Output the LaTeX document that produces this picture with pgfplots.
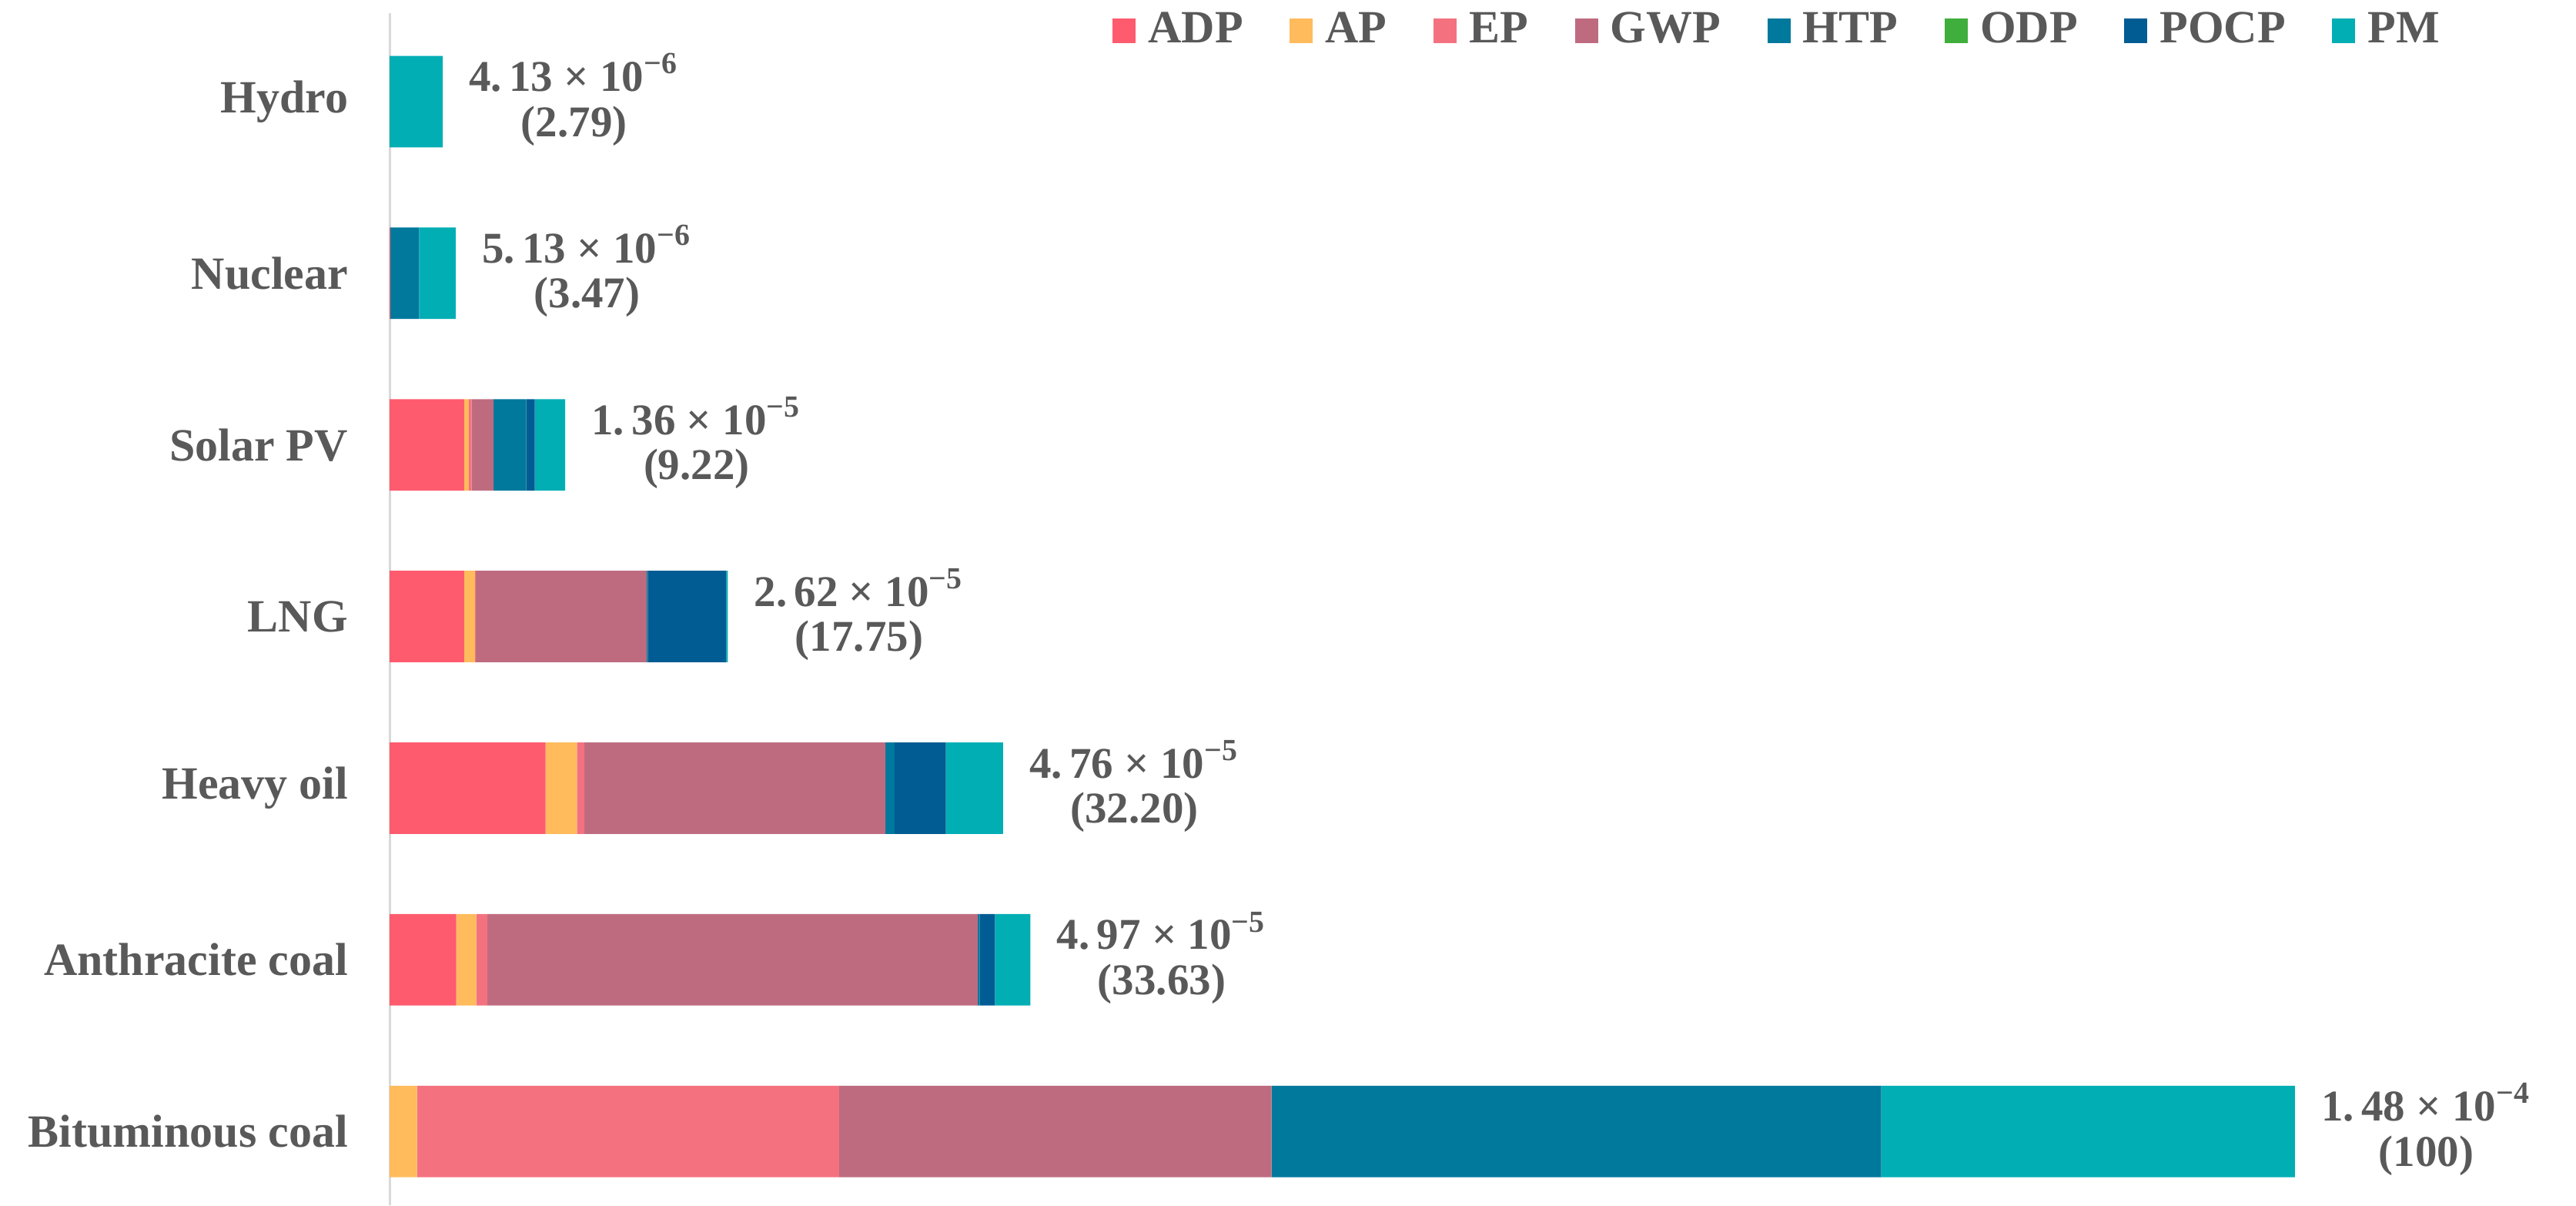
\documentclass[border=0pt]{standalone}
\usepackage{pgfplots}
\pgfplotsset{compat=1.18}
\usepackage{pgfplotstable}
\usepackage{fontspec}
\setmainfont{Liberation Serif}

\definecolor{txt}{HTML}{595959}
\definecolor{cADP}{HTML}{FF5B6E}
\definecolor{cAP}{HTML}{FFBB5C}
\definecolor{cEP}{HTML}{F4727F}
\definecolor{cGWP}{HTML}{BE6B80}
\definecolor{cHTP}{HTML}{00799C}
\definecolor{cODP}{HTML}{40AE3C}
\definecolor{cPOCP}{HTML}{005C93}
\definecolor{cPM}{HTML}{00AEB4}

% label: mantissa (two parts), exponent, relative value
\protected\def\lab#1#2#3#4{{\renewcommand\arraystretch{0.9}%
  \begin{tabular}{@{}c@{}}#1.\,#2 × 10\textsuperscript{−#3}\\(#4)\end{tabular}}}

% idx: 0 Bituminous ... 6 Hydro (relative to bituminous coal = 100)
\pgfplotstableread{
idx  ADP   AP    EP     GWP    HTP    ODP  POCP  PM
0    0     1.44  22.15  22.70  32.00  0    0     21.71
1    3.50  1.05  0.59   25.73  0.10   0    0.80  1.86
2    8.19  1.64  0.40   15.80  0.47   0    2.70  3.00
3    3.91  0.57  0.05   8.97   0.05   0    4.12  0.08
4    3.91  0.25  0.15   1.15   1.72   0    0.44  1.60
5    0.05  0     0      0      1.50   0    0     1.92
6    0     0     0      0      0      0    0     2.79
}\impacts

\begin{document}
\begin{tikzpicture}
\begin{axis}[
    name=ax,
    scale only axis,
    width=473.3pt, height=258pt,
    xbar stacked,
    bar width=19.8pt,
    xmin=0, xmax=114.75,
    ymin=-0.43, ymax=6.516,
    axis x line=none,
    axis y line*=left,
    y axis line style={draw=black!15, line width=0.5pt},
    ytick={0,...,6},
    yticklabels={Bituminous coal, Anthracite coal, Heavy oil, LNG, Solar PV, Nuclear, Hydro},
    ytick style={draw=none},
    yticklabel style={anchor=east, inner sep=0pt, xshift=-8.8pt,
        font=\fontsize{10}{12}\selectfont\bfseries, text=txt},
    clip=false,
    seg/.style={fill=#1, draw=none,
        legend image code/.code={\fill[##1] (0pt,-2.65pt) rectangle (5pt,2.65pt);}},
    legend columns=-1,
    legend style={draw=none, fill=none, inner sep=0pt,
        at={(0.9438,0.985)}, anchor=east,
        nodes={inner xsep=2.7pt, inner ysep=0pt, text=txt,
            font=\fontsize{10}{12}\selectfont\bfseries},
        /tikz/every even column/.append style={column sep=7.4pt}},
]
\addplot[seg=cADP]  table[x=ADP,  y=idx] {\impacts};
\addplot[seg=cAP]   table[x=AP,   y=idx] {\impacts};
\addplot[seg=cEP]   table[x=EP,   y=idx] {\impacts};
\addplot[seg=cGWP]  table[x=GWP,  y=idx] {\impacts};
\addplot[seg=cHTP]  table[x=HTP,  y=idx] {\impacts};
\addplot[seg=cODP]  table[x=ODP,  y=idx] {\impacts};
\addplot[seg=cPOCP] table[x=POCP, y=idx] {\impacts};
\addplot[seg=cPM]   table[x=PM,   y=idx] {\impacts};
% hairline segment at the end of each bar carries the total label
\addplot[fill=white, draw=none, forget plot,
    point meta=explicit symbolic, nodes near coords,
    every node near coord/.append style={anchor=west,
        inner sep=0pt, xshift=5.5pt, text=txt,
        font=\fontsize{9.5}{10.8}\selectfont\bfseries}]
    coordinates {
    (0.001,0) [\lab{1}{48}{4}{100}]
    (0.001,1) [\lab{4}{97}{5}{33.63}]
    (0.001,2) [\lab{4}{76}{5}{32.20}]
    (0.001,3) [\lab{2}{62}{5}{17.75}]
    (0.001,4) [\lab{1}{36}{5}{9.22}]
    (0.001,5) [\lab{5}{13}{6}{3.47}]
    (0.001,6) [\lab{4}{13}{6}{2.79}]
};
\legend{ADP, AP, EP, GWP, HTP, ODP, POCP, PM}
\end{axis}
\pgfresetboundingbox
\path[use as bounding box] ([xshift=-84.33pt]ax.south west) rectangle ([yshift=2.83pt]ax.north east);
\end{tikzpicture}
\end{document}
